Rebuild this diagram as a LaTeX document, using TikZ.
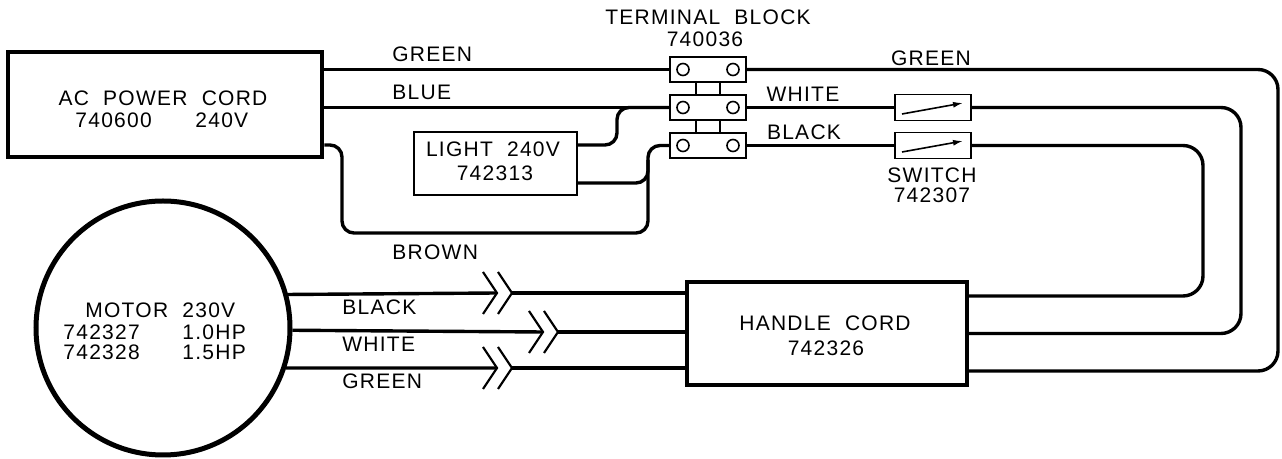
\documentclass[tikz,border=0pt]{standalone}
\usepackage{fontspec}
\setmainfont[LetterSpace=6]{Liberation Sans}
\usetikzlibrary{arrows.meta}
\begin{document}
\begin{tikzpicture}[x=0.5pt,y=-0.5pt,
  wire/.style={line width=1.7pt},
  thickbox/.style={draw,line width=2.4pt,inner sep=0pt},
  thinbox/.style={draw,line width=0.7pt,inner sep=0pt},
  lbl/.style={font=\fontsize{10.5}{12}\selectfont,inner sep=0pt},
  swarrow/.style={line width=0.8pt,-{Latex[length=5pt,width=3pt]}},
  chev/.pic={\draw[line width=1.1pt] (-14,-21) -- (0,0) -- (-14,21);}]
\useasboundingbox (0,0) rectangle (1282,459);

% ---- boxes ----
\node[thickbox,minimum width=157pt,minimum height=52.5pt] (ac) at (165,104.5) {};
\node[thinbox,minimum width=81.5pt,minimum height=31.5pt] (light) at (495.5,163.5) {};
\node[thinbox,minimum width=38pt,minimum height=12.5pt] (tb1) at (708,69.5) {};
\node[thinbox,minimum width=38pt,minimum height=12.5pt] (tb2) at (708,107.5) {};
\node[thinbox,minimum width=38pt,minimum height=12.5pt] (tb3) at (708,145.5) {};
\node[thinbox,minimum width=38pt,minimum height=13pt] (sw1) at (933,107.5) {};
\node[thinbox,minimum width=38pt,minimum height=13pt] (sw2) at (933,145.5) {};
\node[thickbox,line width=2pt,minimum width=140pt,minimum height=51.5pt] (handle) at (827,333.5) {};
\node[circle,draw,line width=2.5pt,minimum size=127pt,inner sep=0pt] (motor) at (163,328) {};

% terminal screws and links
\foreach \t in {tb1,tb2,tb3}{
  \draw[line width=0.8pt] ([xshift=-12.5pt]\t.center) circle[radius=3pt];
  \draw[line width=0.8pt] ([xshift=12.5pt]\t.center) circle[radius=3pt];
}
\draw[line width=0.7pt] ([xshift=-6pt]tb1.south) -- ([xshift=-6pt]tb2.north);
\draw[line width=0.7pt] ([xshift=6pt]tb1.south) -- ([xshift=6pt]tb2.north);
\draw[line width=0.7pt] ([xshift=-6pt]tb2.south) -- ([xshift=-6pt]tb3.north);
\draw[line width=0.7pt] ([xshift=6pt]tb2.south) -- ([xshift=6pt]tb3.north);

% switch blades
\draw[swarrow] ([xshift=-15.5pt,yshift=-3.25pt]sw1.center) -- ([xshift=15pt,yshift=2.25pt]sw1.center);
\draw[swarrow] ([xshift=-15.5pt,yshift=-3.25pt]sw2.center) -- ([xshift=15pt,yshift=2.25pt]sw2.center);

% ---- wires: AC cord side ----
\draw[wire] (ac.east |- tb1.west) -- (tb1.west);
\draw[wire] (ac.east |- tb2.west) -- (tb2.west);
\coordinate (br1) at (342,233);
\coordinate (br2) at (648,145.5);
\draw[wire,rounded corners=6pt] ([yshift=-20.25pt]ac.east) -| (br1) -| (br2) -- (tb3.west);
\coordinate (lt1) at (617,107.5);
\draw[wire,rounded corners=6pt] ([yshift=9.25pt]light.east) -| (lt1) -- (tb2.west);
\coordinate (lt2) at (648,160);
\draw[wire,rounded corners=6pt] ([yshift=-9.75pt]light.east) -| (lt2);

% ---- wires: right side ----
\draw[wire] (tb2.east) -- (sw1.west);
\draw[wire] (tb3.east) -- (sw2.west);
\coordinate (gB) at (1278,371);
\coordinate (wB) at (1241,333.5);
\coordinate (bB) at (1203,296);
\draw[wire,rounded corners=10pt] (tb1.east) -| (gB) -- (gB -| handle.east);
\draw[wire,rounded corners=10pt] (sw1.east) -| (wB) -- (handle.east);
\draw[wire,rounded corners=10pt] (sw2.east) -| (bB) -- (bB -| handle.east);

% ---- wires: motor to handle cord ----
\coordinate (cb1) at (497,293);
\coordinate (cb2) at (512,293);
\coordinate (cw1) at (543,332);
\coordinate (cw2) at (558,332);
\coordinate (cg1) at (497,368);
\coordinate (cg2) at (512,368);
\draw[wire] (motor.15.7) -- (cb1);
\draw[wire] (cb2) -- (cb2 -| handle.west);
\draw[wire] (motor.-1.8) -- (cw1);
\draw[wire] (cw2) -- (cw2 -| handle.west);
\draw[wire] (motor.-18) -- (cg1);
\draw[wire] (cg2) -- (cg2 -| handle.west);
\foreach \c in {cb1,cb2,cw1,cw2,cg1,cg2}{ \pic at (\c) {chev}; }

% ---- texts ----
\node[lbl] (tbt1) at (708,17) {TERMINAL\ \ BLOCK};
\node[lbl] (tbt2) at (705,39) {740036};
\node[lbl] (act1) at (163,98) {AC\ \ POWER\ \ CORD};
\node[lbl,anchor=west] (act2) at (75,120) {740600};
\node[lbl,anchor=west] (act3) at (195,120) {240V};
\node[lbl] (lgt1) at (493,149) {LIGHT\ \ 240V};
\node[lbl] (lgt2) at (495,173) {742313};
\node[lbl,anchor=west] (wg1) at (392,54) {GREEN};
\node[lbl,anchor=west] (wb1) at (392,92) {BLUE};
\node[lbl,anchor=west] (wbr) at (392,252) {BROWN};
\node[lbl] (wg2) at (931,58) {GREEN};
\node[lbl] (ww1) at (803,94) {WHITE};
\node[lbl] (wk1) at (804,132) {BLACK};
\node[lbl] (swt1) at (932,175) {SWITCH};
\node[lbl] (swt2) at (932,195) {742307};
\node[lbl,anchor=west] (wk2) at (342,307) {BLACK};
\node[lbl,anchor=west] (ww2) at (342,344) {WHITE};
\node[lbl,anchor=west] (wg3) at (342,381) {GREEN};
\node[lbl] (hdt1) at (825,323) {HANDLE\ \ CORD};
\node[lbl] (hdt2) at (826,348) {742326};
\node[lbl,anchor=west] (mot1) at (85,310) {MOTOR};
\node[lbl,anchor=west] (mot2) at (182,310) {230V};
\node[lbl,anchor=west] (mot3) at (63,332) {742327};
\node[lbl,anchor=west] (mot4) at (182,332) {1.0HP};
\node[lbl,anchor=west] (mot5) at (63,352) {742328};
\node[lbl,anchor=west] (mot6) at (182,352) {1.5HP};
\end{tikzpicture}
\end{document}
